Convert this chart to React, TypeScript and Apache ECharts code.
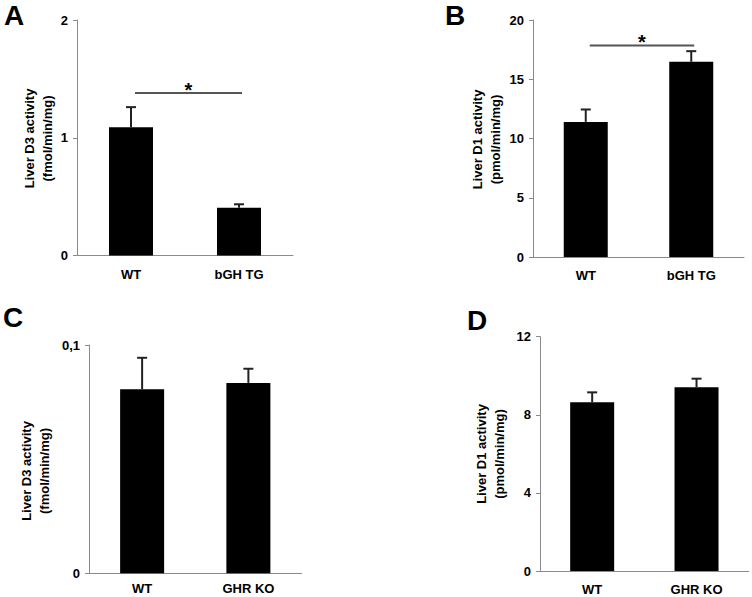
import React, { useEffect, useRef } from "react";
import * as echarts from "echarts";

const categoriesTG = ["WT", "bGH TG"];
const categoriesKO = ["WT", "GHR KO"];

const d3TGMean = [1.09, 0.405];
const d3TGErr = [0.17, 0.03];
const d1TGMean = [11.4, 16.47];
const d1TGErr = [1.05, 0.9];
const d3KOMean = [0.0806, 0.0834];
const d3KOErr = [0.0138, 0.0062];
const d1KOMean = [8.64, 9.41];
const d1KOErr = [0.51, 0.44];

const sigA = 1.38;
const sigB = 17.85;

const FONT = "'Liberation Sans', Arial, Helvetica, sans-serif";

const grids = [
  { left: 77, top: 20, width: 216, height: 235.5 },
  { left: 533, top: 20, width: 211, height: 237 },
  { left: 89, top: 345, width: 212.5, height: 228.3 },
  { left: 540, top: 336.7, width: 208.7, height: 234.3 },
];

const yScales = [
  { min: 0, max: 2, interval: 1 },
  { min: 0, max: 20, interval: 5 },
  { min: 0, max: 0.1, interval: 0.1 },
  { min: 0, max: 12, interval: 4 },
];

const yTitles = [
  { text: "Liver D3 activity\n(fmol/min/mg)", x: 38, y: 138.5 },
  { text: "Liver D1 activity\n(pmol/min/mg)", x: 486, y: 139.5 },
  { text: "Liver D3 activity\n(fmol/min/mg)", x: 35, y: 471 },
  { text: "Liver D1 activity\n(pmol/min/mg)", x: 490, y: 454 },
];

const panelLetters = [
  { text: "A", x: 4, y: 15 },
  { text: "B", x: 445, y: 15 },
  { text: "C", x: 3, y: 317 },
  { text: "D", x: 467, y: 320 },
];

const panels = [
  { cats: categoriesTG, mean: d3TGMean, err: d3TGErr, labelMargin: 12 },
  { cats: categoriesTG, mean: d1TGMean, err: d1TGErr, labelMargin: 12 },
  { cats: categoriesKO, mean: d3KOMean, err: d3KOErr, labelMargin: 9 },
  { cats: categoriesKO, mean: d1KOMean, err: d1KOErr, labelMargin: 12 },
];

const sigs = [
  { grid: 0, y: sigA },
  { grid: 1, y: sigB },
];

function errorRender(params: any, api: any) {
  const idx = api.value(0);
  const m = api.value(1);
  const e = api.value(2);
  const base = api.coord([idx, m]);
  const top = api.coord([idx, m + e]);
  const stroke = { stroke: "#222", lineWidth: 2 };
  return {
    type: "group",
    children: [
      { type: "line", shape: { x1: base[0], y1: base[1], x2: top[0], y2: top[1] }, style: stroke },
      { type: "line", shape: { x1: top[0] - 5, y1: top[1], x2: top[0] + 5, y2: top[1] }, style: stroke },
    ],
  };
}

function sigRender(params: any, api: any) {
  const y = api.value(1);
  const p0 = api.coord([0, y]);
  const p1 = api.coord([1, y]);
  const x0 = p0[0] + 4;
  const x1 = p1[0] + 3;
  return {
    type: "group",
    children: [
      { type: "line", shape: { x1: x0, y1: p0[1], x2: x1, y2: p1[1] }, style: { stroke: "#555", lineWidth: 1.8 } },
      {
        type: "text",
        x: (x0 + x1) / 2,
        y: p0[1] - 3,
        style: { text: "*", font: `bold 20px ${FONT}`, fill: "#000", align: "center", verticalAlign: "middle" },
      },
    ],
  };
}

export default function App() {
  const ref = useRef<HTMLDivElement>(null);
  useEffect(() => {
    if (!ref.current) return;
    const chart = echarts.init(ref.current, null, { renderer: "svg" });
    const series: any[] = [];
    panels.forEach((p, i) => {
      series.push({
        type: "bar",
        xAxisIndex: i,
        yAxisIndex: i,
        data: p.mean,
        barWidth: 44,
        itemStyle: { color: "#000" },
        silent: true,
      });
      series.push({
        type: "custom",
        xAxisIndex: i,
        yAxisIndex: i,
        renderItem: errorRender,
        data: p.mean.map((m, k) => [k, m, p.err[k]]),
        silent: true,
        z: 3,
      });
    });
    sigs.forEach((s) => {
      series.push({
        type: "custom",
        xAxisIndex: s.grid,
        yAxisIndex: s.grid,
        renderItem: sigRender,
        data: [[0, s.y]],
        silent: true,
        clip: false,
        z: 3,
      });
    });

    chart.setOption({
      animation: false,
      backgroundColor: "#fff",
      textStyle: { fontFamily: FONT },
      grid: grids.map((g) => ({ ...g, containLabel: false })),
      xAxis: panels.map((p, i) => ({
        type: "category",
        gridIndex: i,
        data: p.cats,
        axisLine: { show: true, lineStyle: { color: "#8a8a8a", width: 1 } },
        axisTick: { show: false },
        axisLabel: { color: "#000", fontSize: 13, fontWeight: "bold", fontFamily: FONT, margin: p.labelMargin },
        splitLine: { show: false },
      })),
      yAxis: yScales.map((s, i) => ({
        type: "value",
        gridIndex: i,
        min: s.min,
        max: s.max,
        interval: s.interval,
        axisLine: { show: true, lineStyle: { color: "#8a8a8a", width: 1 } },
        axisTick: { show: true, length: 4, lineStyle: { color: "#8a8a8a" } },
        axisLabel: {
          color: "#000",
          fontSize: 13,
          fontWeight: "bold",
          fontFamily: FONT,
          margin: 9,
          formatter: (v: number) => String(v).replace(".", ","),
        },
        splitLine: { show: false },
      })),
      graphic: [
        ...yTitles.map((t) => ({
          type: "text",
          x: t.x,
          y: t.y,
          rotation: Math.PI / 2,
          silent: true,
          style: {
            text: t.text,
            font: `bold 13px ${FONT}`,
            fill: "#000",
            align: "center",
            verticalAlign: "middle",
            lineHeight: 18,
          },
        })),
        ...panelLetters.map((l) => ({
          type: "text",
          x: l.x,
          y: l.y,
          silent: true,
          style: {
            text: l.text,
            font: `bold 28px ${FONT}`,
            fill: "#000",
            align: "left",
            verticalAlign: "middle",
          },
        })),
      ],
      series,
    });
    return () => chart.dispose();
  }, []);
  return (
    <div
      ref={ref}
      style={{ position: "fixed", left: 0, top: 0, width: 752, height: 597, background: "#fff" }}
    />
  );
}
